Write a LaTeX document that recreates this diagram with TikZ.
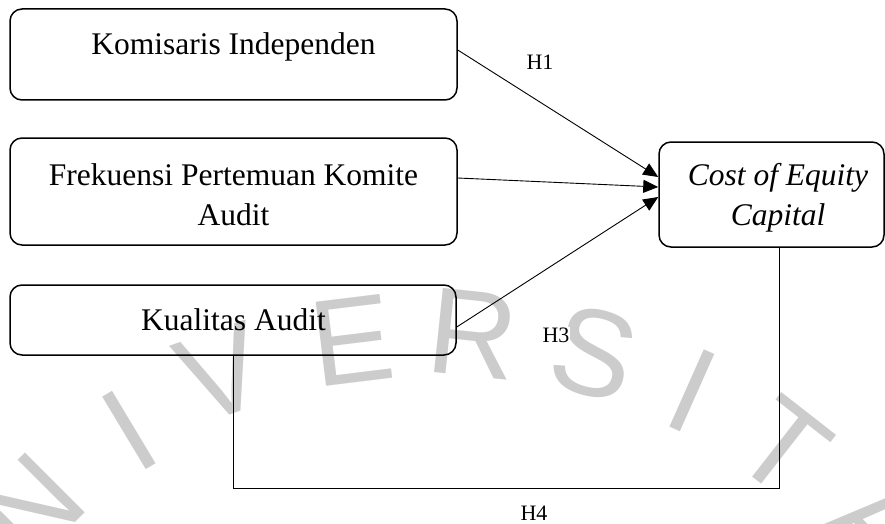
\documentclass[tikz,border=0pt]{standalone}
\usepackage{fontspec}
\setmainfont{Liberation Serif}
\newfontfamily\wmfont{Liberation Sans}
\usetikzlibrary{arrows.meta}
\begin{document}
\begin{tikzpicture}[x=1pt,y=-1pt,
  boxnode/.style={draw, line width=1.5pt, rounded corners=12pt, inner sep=0pt},
  txt/.style={font=\fontsize{31.5}{40}\selectfont, inner sep=0pt, align=center},
  hlab/.style={font=\fontsize{22}{26}\selectfont, inner sep=1pt, fill=white},
  conn/.style={line width=0.9pt},
  arr/.style={conn, -{Triangle[length=15pt,width=13pt]}},
  wm/.style={text=black!20, font=\wmfont\fontsize{123}{123}\selectfont, inner sep=0pt, anchor=center}
]
\useasboundingbox (0,0) rectangle (885,524);
% watermark
\begin{scope}
\clip (0,0) rectangle (885,524);
\node[wm, rotate=45]  (w1) at (31,507)  {N};
\node[wm, rotate=31]  (w2) at (129,430) {I};
\node[wm, rotate=19]  (w3) at (222,373) {V};
\node[wm, rotate=7]   (w4) at (352,340) {E};
\node[wm, rotate=-6]  (w5) at (473,334) {R};
\node[wm, rotate=-15] (w6) at (594,353) {S};
\node[wm, rotate=-24] (w7) at (692,391) {I};
\node[wm, rotate=-38] (w8) at (783,447) {T};
\node[wm, rotate=-45] (w9) at (880,525) {A};
\end{scope}
% boxes
\node[boxnode, minimum width=447pt, minimum height=91pt]  (k) at (233.5,54.5) {};
\node[boxnode, minimum width=447pt, minimum height=107pt] (f) at (233.5,191.5) {};
\node[boxnode, minimum width=446pt, minimum height=70pt]  (q) at (233,320) {};
\node[boxnode, minimum width=225pt, minimum height=105pt] (c) at (771.5,194.5) {};
% texts
\node[txt, anchor=base] (kt) at (233.5,55) {Komisaris Independen};
\node[txt, anchor=base] (ft) at (233.5,225) {Frekuensi Pertemuan Komite\\Audit};
\node[txt, anchor=base] (qt) at (233.5,330) {Kualitas Audit};
\node[txt, anchor=base] (ct) at (778,225) {\itshape Cost of Equity\\\itshape Capital};
% connectors
\draw[arr] ([yshift=4.5pt]k.east) -- ([yshift=17.5pt]c.west);
\draw[arr] ([yshift=13.5pt]f.east) -- ([yshift=7.5pt]c.west);
\draw[arr] ([yshift=-7pt]q.east) -- ([yshift=-2.5pt]c.west);
\draw[conn] (q.south) -- ++(0,133) coordinate (corner) -| ([xshift=7.5pt]c.south);
% labels
\node[hlab] (h1) at (540,62) {H1};
\node[hlab] (h3) at (556,335) {H3};
\node[hlab] (h4) at (534,513) {H4};
\end{tikzpicture}
\end{document}
